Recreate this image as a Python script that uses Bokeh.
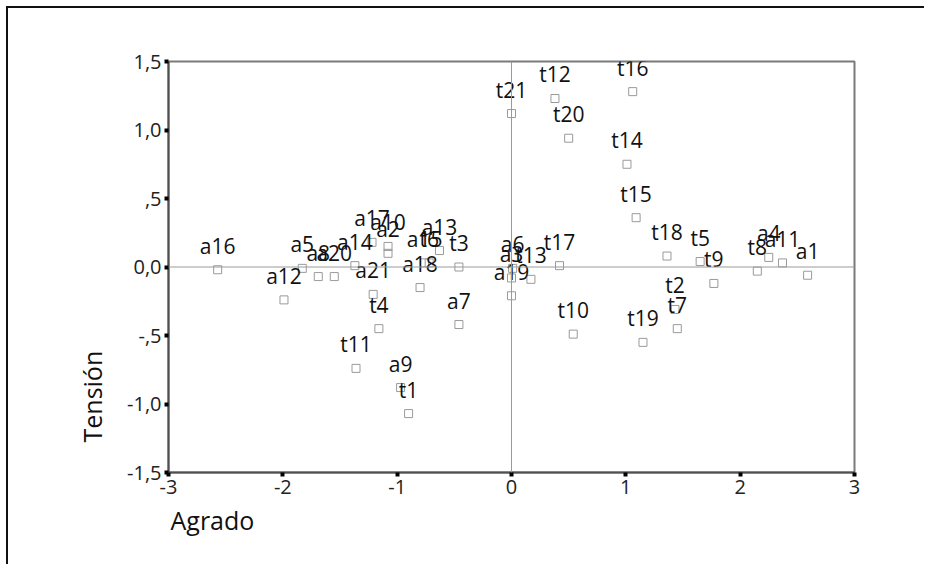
from bokeh.plotting import figure
from bokeh.models import ColumnDataSource, Span, Title, FixedTicker
from bokeh.core.properties import value
from bokeh.embed import file_html
from bokeh.resources import INLINE

# Item labels and their coordinates on the two dimensions
names = [
    "a1", "a2", "a3", "a4", "a5", "a6", "a7", "a8", "a9", "a10", "a11",
    "a12", "a13", "a14", "a15", "a16", "a17", "a18", "a19", "a20", "a21",
    "t1", "t2", "t3", "t4", "t5", "t6", "t7", "t8", "t9", "t10", "t11",
    "t12", "t13", "t14", "t15", "t16", "t17", "t18", "t19", "t20", "t21",
]
agrado = [
    2.59, -1.08, 0.00, 2.25, -1.83, 0.01, -0.46, -1.69, -0.97, -1.08, 2.37,
    -1.99, -0.63, -1.37, -0.76, -2.57, -1.22, -0.80, 0.00, -1.55, -1.21,
    -0.90, 1.43, -0.46, -1.16, 1.65, -0.72, 1.45, 2.15, 1.77, 0.54, -1.36,
    0.38, 0.17, 1.01, 1.09, 1.06, 0.42, 1.36, 1.15, 0.50, 0.00,
]
tension = [
    -0.06, 0.10, -0.08, 0.07, -0.01, -0.01, -0.42, -0.07, -0.88, 0.15, 0.03,
    -0.24, 0.12, 0.01, 0.03, -0.02, 0.18, -0.15, -0.21, -0.07, -0.20,
    -1.07, -0.31, 0.00, -0.45, 0.04, 0.03, -0.45, -0.03, -0.12, -0.49, -0.74,
    1.23, -0.09, 0.75, 0.36, 1.28, 0.01, 0.08, -0.55, 0.94, 1.12,
]

x_ticks = [-3, -2, -1, 0, 1, 2, 3]
x_tick_labels = ["-3", "-2", "-1", "0", "1", "2", "3"]
y_ticks = [-1.5, -1, -0.5, 0, 0.5, 1, 1.5]
y_tick_labels = ["-1,5", "-1,0", "-,5", "0,0", ",5", "1,0", "1,5"]

FONT = "Open Sans"

src = ColumnDataSource(dict(x=agrado, y=tension, name=names))

p = figure(
    width=918, height=558,
    x_range=(-3, 3), y_range=(-1.5, 1.5),
    output_backend="svg", toolbar_location=None,
    min_border_left=160, min_border_right=72,
    min_border_top=53, min_border_bottom=94,
)
p.margin = (6, 0, 0, 6)
p.styles = {"border-top": "2px solid #111", "border-left": "2px solid #111"}

p.background_fill_color = "white"
p.border_fill_color = "white"
p.outline_line_color = "#7a7a7a"
p.outline_line_width = 2
p.xgrid.visible = False
p.ygrid.visible = False

# reference lines through the origin
p.add_layout(Span(location=0, dimension="width", line_color="#9a9a9a", line_width=1))
p.add_layout(Span(location=0, dimension="height", line_color="#9a9a9a", line_width=1))

p.scatter("x", "y", source=src, marker="square", size=8,
          fill_color=None, line_color="#9a9a9a", line_width=1)
p.text("x", "y", text="name", source=src, text_align="center",
       text_baseline="alphabetic", y_offset=-24,
       text_font=value(FONT), text_font_size="21px", text_color="#111111")

for ax, ticks, labels in ((p.xaxis[0], x_ticks, x_tick_labels),
                          (p.yaxis[0], y_ticks, y_tick_labels)):
    ax.ticker = FixedTicker(ticks=ticks)
    ax.major_label_overrides = {
        (int(t) if float(t).is_integer() else t): lab for t, lab in zip(ticks, labels)
    }
    ax.minor_tick_line_color = None
    ax.major_tick_in = 0
    ax.major_tick_out = 4
    ax.major_tick_line_width = 4
    ax.major_tick_line_color = "black"
    ax.axis_line_color = "#505050"
    ax.axis_line_width = 2
    ax.major_label_text_font = FONT
    ax.major_label_text_font_size = "20px"
    ax.major_label_text_color = "#222222"
    ax.major_label_standoff = 3

# axis titles, set against the start of each axis
p.add_layout(Title(text="Agrado", align="left", offset=2, standoff=9,
                   text_font=FONT, text_font_size="25px",
                   text_font_style="normal", text_color="#111111"), "below")
p.add_layout(Title(text="Tensión", align="left", offset=30, standoff=31,
                   text_font=FONT, text_font_size="25px",
                   text_font_style="normal", text_color="#111111"), "left")

open("out.html", "w").write(file_html(p, INLINE))
